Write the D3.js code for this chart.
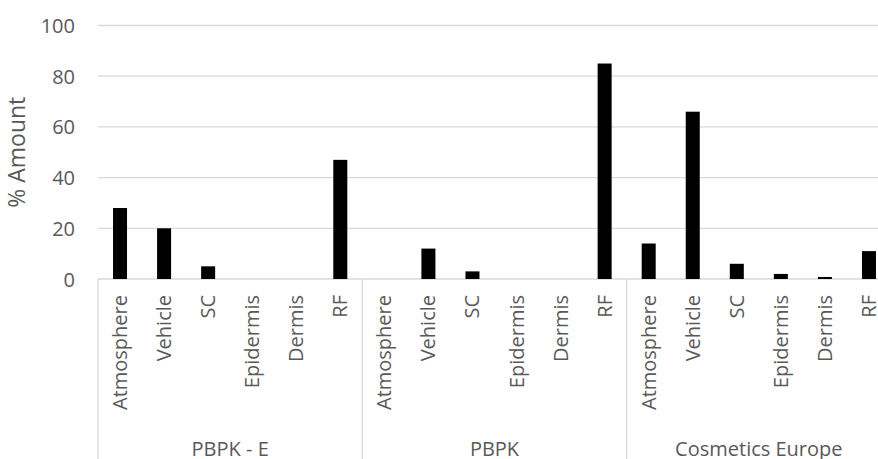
<!DOCTYPE html>
<html><head><meta charset="utf-8">
<script src="https://cdn.jsdelivr.net/npm/d3@7"></script>
<style>body{margin:0;background:#fff}svg{display:block}text{font-family:"Open Sans",sans-serif;fill:#595959}</style>
</head><body>
<svg id="c" width="878" height="459"></svg>
<script>
const groups = ["PBPK - E", "PBPK", "Cosmetics Europe"];
const categories = ["Atmosphere", "Vehicle", "SC", "Epidermis", "Dermis", "RF"];
const pbpkE = [28, 20, 5, 0, 0, 47];
const pbpk = [0, 12, 3, 0, 0, 85];
const cosmeticsEurope = [14, 66, 6, 2, 0.8, 11];
const yTicks = [0, 20, 40, 60, 80, 100];
const yTitle = "% Amount";

const seriesByGroup = [pbpkE, pbpk, cosmeticsEurope];
const data = [];
groups.forEach((g, gi) => categories.forEach((c, ci) => data.push({group: g, cat: c, key: g + "|" + c, value: seriesByGroup[gi][ci]})));

const svg = d3.select("#c");
const mLeft = 98, mRight = 891, mTop = 25.5, mBottom = 279;
const y = d3.scaleLinear().domain([0, 100]).range([mBottom, mTop]);
const xg = d3.scaleBand().domain(groups).range([mLeft, mRight]);
const pi = 0.682;
const xc = d3.scaleBand().domain(categories).range([0, xg.bandwidth()]).paddingInner(pi).paddingOuter(pi / 2);

// gridlines
svg.append("g").selectAll("line").data(yTicks).join("line")
  .attr("x1", mLeft).attr("x2", mRight)
  .attr("y1", d => y(d)).attr("y2", d => y(d))
  .attr("stroke", "#d9d9d9").attr("stroke-width", 1.3);

// y tick labels
const yAxis = d3.axisLeft(y).tickValues(yTicks).tickSize(0).tickPadding(0);
const ya = svg.append("g").attr("transform", `translate(${mLeft - 23},0)`).call(yAxis);
ya.select(".domain").remove();
ya.selectAll("text").style("font-size", "20px").attr("font-family", null).attr("fill", "#595959").attr("dy", "0.35em");
ya.attr("font-family", null).attr("font-size", null);

// bars
svg.append("g").selectAll("rect").data(data).join("rect")
  .attr("x", d => xg(d.group) + xc(d.cat))
  .attr("width", xc.bandwidth())
  .attr("y", d => y(d.value))
  .attr("height", d => y(0) - y(d.value))
  .attr("fill", "#000");

// separators
const seps = groups.map(g => xg(g));
svg.append("g").selectAll("line").data(seps).join("line")
  .attr("x1", d => d).attr("x2", d => d)
  .attr("y1", mBottom).attr("y2", 459)
  .attr("stroke", "#d9d9d9").attr("stroke-width", 1.3);

// category labels
svg.append("g").selectAll("text").data(data).join("text")
  .attr("transform", d => `translate(${xg(d.group) + xc(d.cat) + xc.bandwidth() / 2 + 7},${mBottom + 16}) rotate(-90)`)
  .attr("text-anchor", "end")
  .style("font-size", "20px")
  .text(d => d.cat);

// group labels
svg.append("g").selectAll("text").data(groups).join("text")
  .attr("x", d => xg(d) + xg.bandwidth() / 2)
  .attr("y", 456)
  .attr("text-anchor", "middle")
  .style("font-size", "20px")
  .text(d => d);

// y title
svg.append("text")
  .attr("transform", `translate(${25},${(mTop + mBottom) / 2}) rotate(-90)`)
  .attr("text-anchor", "middle")
  .style("font-size", "23px")
  .text(yTitle);
</script>
</body></html>
